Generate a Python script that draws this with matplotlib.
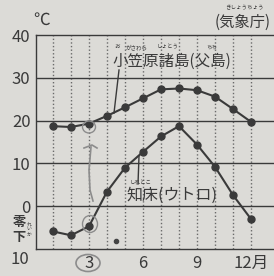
import matplotlib
matplotlib.use("Agg")
import matplotlib.pyplot as plt
from matplotlib.patches import Ellipse

plt.rcParams['font.family'] = ['Noto Sans CJK JP', 'DejaVu Sans']

# monthly mean temperature (°C)
months = list(range(1, 13))
chichijima = [18.7, 18.5, 19.3, 21.1, 23.1, 25.2, 27.3, 27.5, 27.1, 25.6, 22.7, 19.7]
utoro = [-5.9, -6.8, -4.7, 3.4, 9.0, 12.7, 16.3, 18.7, 14.4, 9.2, 2.6, -3.0]
ytick_vals = [0, 10, 20, 30, 40]
xtick_vals = [3, 6, 9, 12]
xtick_labels = ['3', '6', '9', '12月']

ink = '#3a3a3a'
paper = '#dcdbd7'
pencil = '#8c8c8c'

fig = plt.figure(figsize=(2.74, 2.76), dpi=100, facecolor=paper)
ax = fig.add_axes([36 / 274, 1 - 249 / 276, 1 - 36 / 274, (249 - 35) / 276])
ax.set_facecolor(paper)
ax.set_xlim(1 / 18, 239 / 18)
ax.set_ylim(-10, 40)

# grid
for m in months:
    ax.axvline(m, color='#6a6a6a', lw=1.0, ls=(0, (1, 1.6)), zorder=1)
for v in [0, 10, 20, 30]:
    ax.axhline(v, color=ink, lw=1.0, zorder=1)
for s in ['top', 'bottom', 'left']:
    ax.spines[s].set_color(ink)
    ax.spines[s].set_linewidth(1.0)
ax.spines['right'].set_visible(False)

ax.plot(months, chichijima, color=ink, lw=1.5, marker='o', ms=5, zorder=3)
ax.plot(months, utoro, color=ink, lw=1.5, marker='o', ms=5, zorder=3)

ax.set_yticks(ytick_vals)
ax.set_yticklabels([str(v) for v in ytick_vals], fontsize=12, color=ink)
ax.set_xticks(xtick_vals)
ax.set_xticklabels(xtick_labels, fontsize=12, color=ink)
ax.tick_params(length=0, pad=4)

# overlay in pixel coordinates for the texts and pencil marks
ov = fig.add_axes([0, 0, 1, 1], facecolor='none')
ov.set_xlim(0, 274)
ov.set_ylim(276, 0)
ov.axis('off')

ov.text(42, 20, '℃', fontsize=12, color=ink, ha='center', va='center')
ov.text(20, 259, '10', fontsize=12, color=ink, ha='center', va='center')
ov.text(19, 222, '零', fontsize=9.5, color=ink, ha='center', va='center', weight='bold')
ov.text(19, 237, '下', fontsize=9.5, color=ink, ha='center', va='center', weight='bold')
ov.text(29, 229, 'れ\nい\nか', fontsize=3.5, color=ink, ha='center', va='center', linespacing=1.0)

ov.text(112, 61, '小笠原諸島(父島)', fontsize=11.2, color=ink, ha='left', va='center')
ov.text(117, 47, 'お', fontsize=4, color=ink, ha='center', va='center')
ov.text(137, 47, 'がさわら', fontsize=4, color=ink, ha='center', va='center')
ov.text(168, 47, 'しょとう', fontsize=4, color=ink, ha='center', va='center')
ov.text(212, 47, 'ちち', fontsize=4, color=ink, ha='center', va='center')
ov.plot([119, 114], [70, 113], color=ink, lw=1.0)

ov.text(126, 195, '知床(ウトロ)', fontsize=11.5, color=ink, ha='left', va='center')
ov.text(141, 183, 'しれとこ', fontsize=4, color=ink, ha='center', va='center')
ov.plot([139, 138], [156, 184], color=ink, lw=1.0)

ov.text(243, 22, '(気象庁)', fontsize=11, color=ink, ha='center', va='center')
ov.text(244, 8, 'きしょうちょう', fontsize=4, color=ink, ha='center', va='center')

# pencil marks
ov.add_patch(Ellipse((88, 263), 24, 17, fill=False, ec=pencil, lw=1.2))
ov.add_patch(Ellipse((89, 127), 13, 12, fill=False, ec=pencil, lw=1.0))
ov.add_patch(Ellipse((90, 224), 15, 17, fill=False, ec=pencil, lw=1.0))
ov.plot([91, 89, 90, 93], [147, 170, 190, 201], color=pencil, lw=1.2)
ov.plot([84, 92, 97], [148, 145, 148], color=pencil, lw=1.2)
ov.plot([116], [241], marker='o', ms=3, color='#444444')

fig.savefig('out.png', dpi=100, facecolor=paper)
